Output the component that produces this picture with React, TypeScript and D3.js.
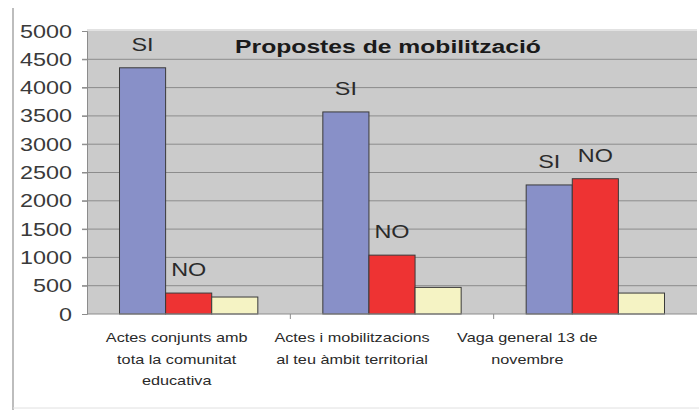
import React, { useEffect, useRef } from 'react';
import * as d3 from 'd3';

const title = 'Propostes de mobilització';
const categories = ['cat1', 'cat2', 'cat3'];
const categoryLines = [
  ['Actes conjunts amb', 'tota la comunitat', 'educativa'],
  ['Actes i mobilitzacions', 'al teu àmbit territorial'],
  ['Vaga general 13 de', 'novembre'],
];
const seriesNames = ['SI', 'NO', 'ALTRES'];
const siValues = [4350, 3570, 2280];
const noValues = [370, 1040, 2390];
const altresValues = [300, 470, 370];
const seriesColors = ['#8890c8', '#ee3333', '#f5f3c4'];
const labelledSeries = ['SI', 'NO'];
const yTicks = [0, 500, 1000, 1500, 2000, 2500, 3000, 3500, 4000, 4500, 5000];

const SX = 1.3; // the source image is stretched sideways

function App() {
  const ref = useRef<HTMLDivElement>(null);

  useEffect(() => {
    document.body.style.margin = '0';
    const W = 699;
    const H = 410;
    const plot = { left: 87, right: 697, top: 30, bottom: 314 };

    const root = d3.select(ref.current);
    root.selectAll('*').remove();
    const svg = root
      .append('svg')
      .attr('width', W)
      .attr('height', H)
      .style('display', 'block')
      .style('font-family', '"Liberation Sans", Arial, sans-serif');

    svg.append('rect').attr('width', W).attr('height', H).attr('fill', '#ffffff');

    // outer frame (left and bottom edges are visible)
    svg.append('line').attr('x1', 13).attr('x2', 13).attr('y1', 8).attr('y2', 410)
      .attr('stroke', '#bdbdbd').attr('stroke-width', 2);
    svg.append('line').attr('x1', 13).attr('x2', W).attr('y1', 408).attr('y2', 408)
      .attr('stroke', '#e0e0e0').attr('stroke-width', 1);

    const x = d3.scaleBand().domain(categories).range([plot.left, plot.right]);
    const x1 = d3.scaleBand().domain(seriesNames)
      .range([0, x.bandwidth()]).paddingInner(0).paddingOuter(0.705);
    const y = d3.scaleLinear().domain([0, 5000]).range([plot.bottom, plot.top + 1]);

    // plot area
    svg.append('rect')
      .attr('x', plot.left).attr('y', plot.top)
      .attr('width', plot.right - plot.left).attr('height', plot.bottom - plot.top)
      .attr('fill', '#cbcbcb');
    svg.append('line').attr('x1', plot.left).attr('x2', plot.right)
      .attr('y1', plot.top).attr('y2', plot.top).attr('stroke', '#e2e2e2').attr('stroke-width', 2);

    // gridlines
    svg.append('g').selectAll('line')
      .data(yTicks.filter(t => t > 0 && t < 5000))
      .enter().append('line')
      .attr('x1', plot.left - 5).attr('x2', plot.right)
      .attr('y1', d => y(d)).attr('y2', d => y(d))
      .attr('stroke', '#8c8c8c').attr('stroke-width', 1);

    // y axis
    const yAxis = svg.append('g')
      .attr('transform', 'translate(' + plot.left + ',0)')
      .call(d3.axisLeft(y).tickValues(yTicks).tickSize(5).tickPadding(0).tickFormat(d3.format('d')));
    yAxis.select('.domain').attr('stroke', '#8c8c8c');
    yAxis.selectAll('.tick line').attr('stroke', '#8c8c8c');
    yAxis.selectAll('.tick text')
      .attr('x', null).attr('dy', null)
      .attr('transform', 'translate(-15,6) scale(' + SX + ',1)')
      .attr('font-size', 18)
      .attr('fill', '#3a3a3a')
      .attr('text-anchor', 'end');

    // bars
    const rows = categories.map((c, i) => ({
      cat: c,
      values: [siValues[i], noValues[i], altresValues[i]],
    }));
    const groups = svg.append('g').selectAll('g')
      .data(rows).enter().append('g')
      .attr('transform', d => 'translate(' + x(d.cat) + ',0)');
    groups.selectAll('rect')
      .data(d => d.values.map((v, j) => ({ name: seriesNames[j], value: v, j })))
      .enter().append('rect')
      .attr('x', d => x1(d.name)!)
      .attr('y', d => y(d.value))
      .attr('width', x1.bandwidth())
      .attr('height', d => plot.bottom - y(d.value))
      .attr('fill', d => seriesColors[d.j])
      .attr('stroke', '#3a3a3a')
      .attr('stroke-width', 1);
    groups.selectAll('text')
      .data(d => d.values.map((v, j) => ({ name: seriesNames[j], value: v }))
        .filter(e => labelledSeries.includes(e.name)))
      .enter().append('text')
      .attr('transform', d => 'translate(' + (x1(d.name)! + x1.bandwidth() / 2) + ',' + (y(d.value) - 17) + ') scale(' + SX + ',1)')
      .attr('text-anchor', 'middle')
      .attr('font-size', 18)
      .attr('fill', '#2a2a2a')
      .text(d => d.name);

    // x axis
    svg.append('line').attr('x1', plot.left).attr('x2', plot.right)
      .attr('y1', plot.bottom).attr('y2', plot.bottom).attr('stroke', '#8c8c8c');
    svg.append('g').selectAll('line')
      .data(categories.slice(1))
      .enter().append('line')
      .attr('x1', d => x(d)!).attr('x2', d => x(d)!)
      .attr('y1', plot.bottom).attr('y2', plot.bottom + 5)
      .attr('stroke', '#8c8c8c');

    // category labels sit in narrower slots than the bars
    const xl = d3.scaleBand().domain(categories).range([plot.left + 2, plot.left + 528]);
    categories.forEach((c, i) => {
      categoryLines[i].forEach((line, k) => {
        svg.append('text')
          .attr('transform', 'translate(' + (xl(c)! + xl.bandwidth() / 2) + ',' + (342 + k * 21.5) + ') scale(' + SX + ',1)')
          .attr('text-anchor', 'middle')
          .attr('font-size', 12.5)
          .attr('fill', '#2a2a2a')
          .text(line);
      });
    });

    // title
    svg.append('text')
      .attr('transform', 'translate(388,53) scale(' + SX + ',1)')
      .attr('text-anchor', 'middle')
      .attr('font-size', 19)
      .attr('font-weight', 'bold')
      .attr('fill', '#1a1a1a')
      .text(title);
  }, []);

  return <div ref={ref}></div>;
}

export default App;
